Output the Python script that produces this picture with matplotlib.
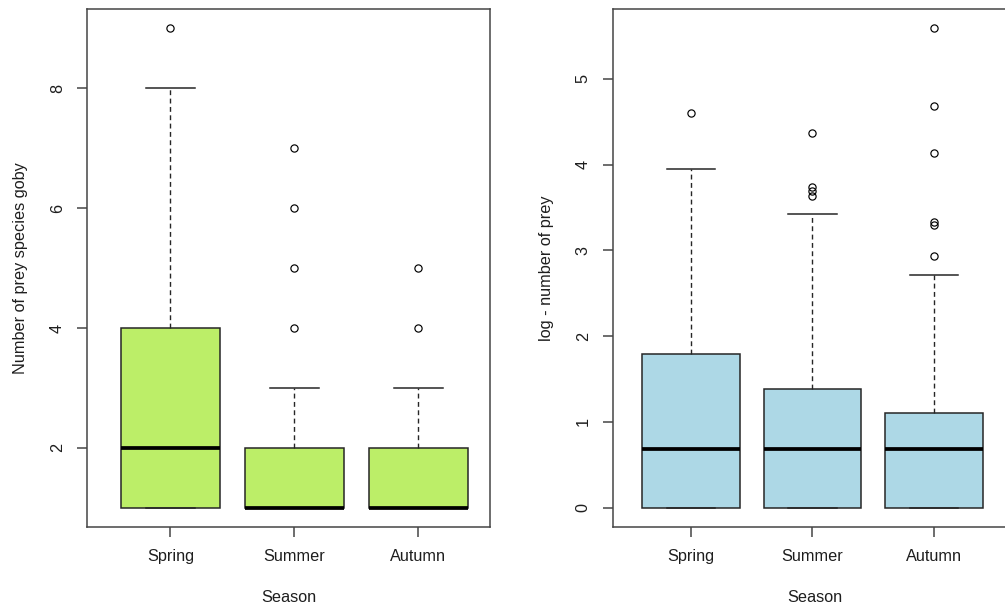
import matplotlib
matplotlib.use("Agg")
import matplotlib.pyplot as plt

plt.rcParams['font.family'] = ['Liberation Sans', 'DejaVu Sans']

seasons = ["Spring", "Summer", "Autumn"]

# Number of prey species per goby: box statistics by season
species_low = [1, 1, 1]
species_q1 = [1, 1, 1]
species_med = [2, 1, 1]
species_q3 = [4, 2, 2]
species_high = [8, 3, 3]
species_out = [[9], [4, 5, 6, 7], [4, 5]]

# log number of prey: box statistics by season
logprey_low = [0, 0, 0]
logprey_q1 = [0, 0, 0]
logprey_med = [0.69, 0.69, 0.69]
logprey_q3 = [1.79, 1.39, 1.10]
logprey_high = [3.95, 3.43, 2.71]
logprey_out = [[4.60], [3.64, 3.69, 3.74, 4.37], [2.94, 3.30, 3.33, 4.14, 4.68, 5.59]]

left_ticks = [2, 4, 6, 8]
right_ticks = [0, 1, 2, 3, 4, 5]

W, H = 1005, 610
fig = plt.figure(figsize=(W / 100, H / 100), dpi=100)

LINE = "#262626"
FRAME = "#454545"
TXT = "#1e1e1e"
FS = 11.7


def stats(lo, q1, med, q3, hi, out):
    return [dict(whislo=a, q1=b, med=c, q3=d, whishi=e, fliers=f, label=s)
            for a, b, c, d, e, f, s in zip(lo, q1, med, q3, hi, out, seasons)]


def panel(rect, st, color, ylim, xlim, yticks, ylabel):
    ax = fig.add_axes(rect)
    ax.bxp(st, positions=[1, 2, 3], widths=0.8, patch_artist=True,
           boxprops=dict(facecolor=color, edgecolor=LINE, linewidth=1.1),
           medianprops=dict(color="black", linewidth=2.7, solid_capstyle="butt"),
           whiskerprops=dict(color=LINE, linewidth=1.0, linestyle=(0, (3.5, 2.5))),
           capprops=dict(color=LINE, linewidth=1.1),
           flierprops=dict(marker="o", markersize=5.2, markerfacecolor="none",
                           markeredgecolor="black", markeredgewidth=0.85))
    ax.set_xlim(*xlim)
    ax.set_ylim(*ylim)
    ax.set_yticks(yticks)
    ax.set_yticklabels([str(t) for t in yticks])
    ax.set_xticks([1, 2, 3])
    ax.set_xticklabels(seasons)
    for sp in ax.spines.values():
        sp.set_color(FRAME)
        sp.set_linewidth(1.1)
    ax.tick_params(axis="both", length=7, width=1.1, color=FRAME,
                   labelsize=FS, labelcolor=TXT)
    ax.tick_params(axis="x", pad=9)
    ax.tick_params(axis="y", pad=9)
    for lab in ax.get_yticklabels():
        lab.set_rotation(90)
        lab.set_va("center")
        lab.set_ha("right")
    ax.set_ylabel(ylabel, fontsize=FS, color=TXT)
    ax.yaxis.label.set_va("center")
    ax.yaxis.set_label_coords(-0.166, 0.5)
    ax.set_xlabel("Season", fontsize=FS, color=TXT)
    ax.xaxis.label.set_va("center")
    ax.xaxis.set_label_coords(0.5, -0.137)
    return ax


bottom = (H - 527) / H
height = (527 - 9) / H
width = 403 / W

panel([87 / W, bottom, width, height],
      stats(species_low, species_q1, species_med, species_q3, species_high, species_out),
      "#BCEE68", (0.68, 9.32), (0.327, 3.577), left_ticks,
      "Number of prey species goby")

panel([613 / W, bottom, width, height],
      stats(logprey_low, logprey_q1, logprey_med, logprey_q3, logprey_high, logprey_out),
      "#ADD8E6", (-0.224, 5.814), (0.358, 3.675), right_ticks,
      "log - number of prey")

fig.savefig("out.png", dpi=100)
